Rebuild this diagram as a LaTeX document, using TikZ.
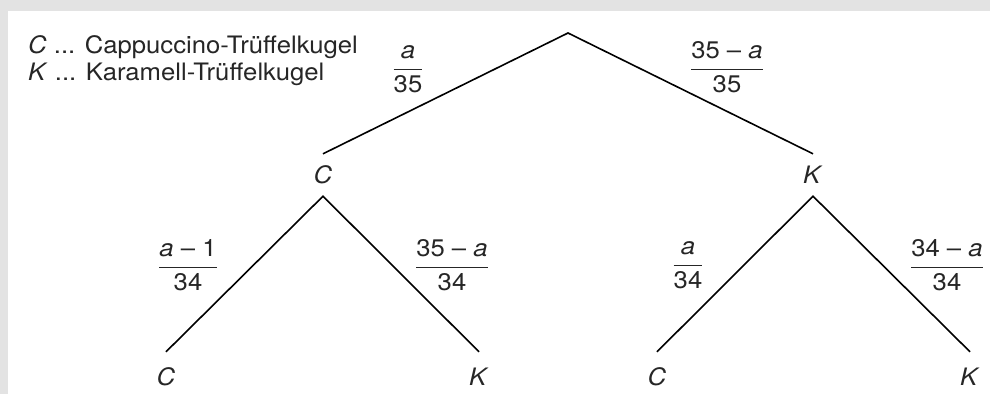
\documentclass[tikz,border=0pt]{standalone}
\usepackage{fontspec}
\setmainfont{TeX Gyre Heros}
\usetikzlibrary{positioning}
\newcommand\myfrac[2]{$\displaystyle\frac{\mbox{#1}}{\mbox{#2}}$}
\begin{document}
\begin{tikzpicture}[x=1pt,y=-1pt,
  txt/.style={font=\fontsize{24}{28}\selectfont, text=black!85, inner sep=0pt, xscale=1.07},
  lbl/.style={txt, minimum height=42pt},
  leaf/.style={txt, minimum height=50pt},
  frac/.style={txt},
  branch/.style={line width=1.6pt, black}]
\fill[black!11] (0,0) rectangle (990,394);
\fill[white] (8,11) rectangle (990,394);
\useasboundingbox (0,0) rectangle (990,394);

\node[txt, anchor=west] (leg1) at (28,47) {\textit{C} ... Cappuccino-Trüffelkugel};
\node[txt, anchor=west] (leg2) at (28,74) {\textit{K} ... Karamell-Trüffelkugel};

\coordinate (root) at (568,33);
\node[lbl] (c1) at (323,175) {\textit{C}};
\node[lbl] (k1) at (813,175) {\textit{K}};
\node[leaf] (cc) at (166,377) {\textit{C}};
\node[leaf] (ck) at (479,377) {\textit{K}};
\node[leaf] (kc) at (657,377) {\textit{C}};
\node[leaf] (kk) at (970,377) {\textit{K}};

\draw[branch] (c1.north) -- (root) -- (k1.north);
\draw[branch] (cc.north) -- (c1.south) -- (ck.north);
\draw[branch] (kc.north) -- (k1.south) -- (kk.north);

\node[frac] (f1) at (408,69) {\myfrac{\textit{a}}{35}};
\node[frac] (f2) at (727,67) {\myfrac{35 – \textit{a}}{35}};
\node[frac] (f3) at (188,265) {\myfrac{\textit{a} – 1}{34}};
\node[frac] (f4) at (452,265) {\myfrac{35 – \textit{a}}{34}};
\node[frac] (f5) at (688,265) {\myfrac{\textit{a}}{34}};
\node[frac] (f6) at (947,265) {\myfrac{34 – \textit{a}}{34}};
\end{tikzpicture}
\end{document}
